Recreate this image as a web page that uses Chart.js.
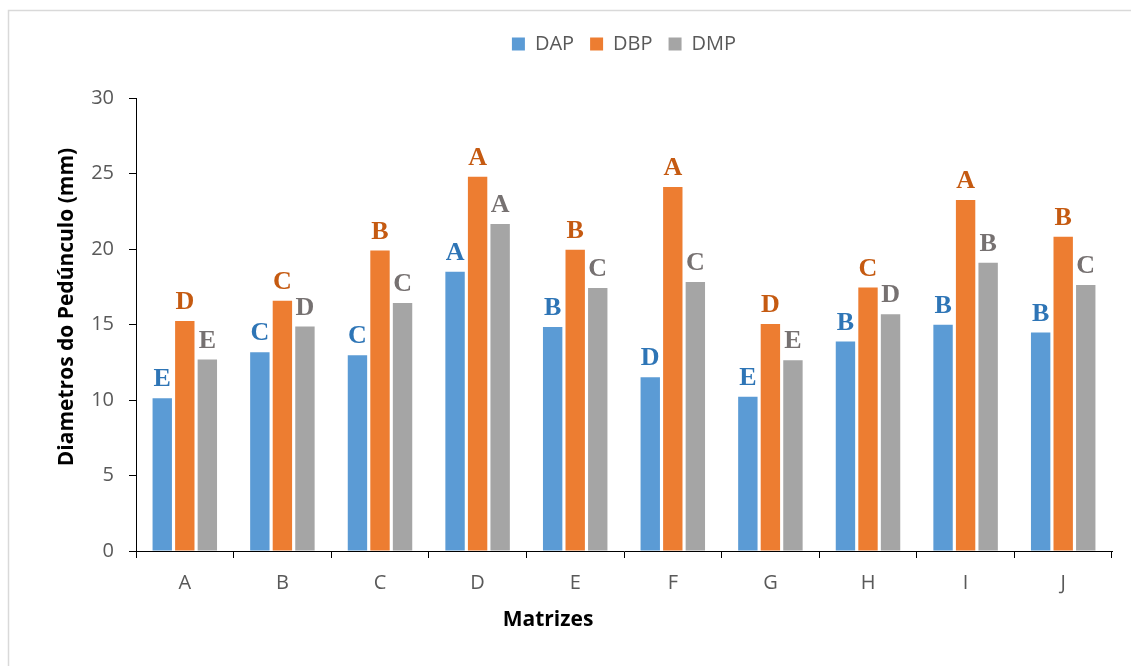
<!DOCTYPE html>
<html>
<head>
<meta charset="utf-8">
<script src="https://cdn.jsdelivr.net/npm/chart.js@4.4.1/dist/chart.umd.min.js"></script>
<style>
  html, body { margin: 0; padding: 0; background: #ffffff; overflow: hidden; }
  #wrap { position: relative; width: 1131px; height: 666px; }
</style>
</head>
<body>
<div id="wrap"><canvas id="chart" width="1131" height="666"></canvas></div>
<script>
// Matrizes (categories)
const categories = ['A', 'B', 'C', 'D', 'E', 'F', 'G', 'H', 'I', 'J'];

// Diameter series, mm
const dap = [10.12, 13.17, 12.97, 18.49, 14.84, 11.51, 10.21, 13.87, 14.98, 14.47];
const dbp = [15.24, 16.57, 19.90, 24.78, 19.95, 24.10, 15.04, 17.45, 23.24, 20.81];
const dmp = [12.68, 14.86, 16.43, 21.65, 17.41, 17.81, 12.64, 15.68, 19.09, 17.61];

// Significance letters shown above each bar
const dapLetters = ['E', 'C', 'C', 'A', 'B', 'D', 'E', 'B', 'B', 'B'];
const dbpLetters = ['D', 'C', 'B', 'A', 'B', 'A', 'D', 'C', 'A', 'B'];
const dmpLetters = ['E', 'D', 'C', 'A', 'C', 'C', 'E', 'D', 'B', 'C'];

// Axis ticks
const yTicks = [0, 5, 10, 15, 20, 25, 30];

const seriesNames = ['DAP', 'DBP', 'DMP'];
const barColors = ['#5B9BD5', '#ED7D31', '#A5A5A5'];
const letterColors = ['#2E75B6', '#C55A11', '#767171'];
const letterSets = [dapLetters, dbpLetters, dmpLetters];

const TICK_FONT = { family: '"Open Sans", "DejaVu Sans", sans-serif', size: 20 };

// Outer frame (left and top edges visible)
const framePlugin = {
  id: 'frame',
  beforeDraw(chart) {
    const ctx = chart.ctx;
    ctx.save();
    ctx.strokeStyle = '#D9D9D9';
    ctx.lineWidth = 1.5;
    ctx.beginPath();
    ctx.moveTo(8.5, 666);
    ctx.lineTo(8.5, 10.5);
    ctx.lineTo(1131, 10.5);
    ctx.stroke();
    ctx.restore();
  }
};

// Letters above bars, placed from each bar element
const letterPlugin = {
  id: 'letters',
  afterDatasetsDraw(chart) {
    const ctx = chart.ctx;
    ctx.save();
    ctx.font = 'bold 26px "Liberation Serif", "DejaVu Serif", serif';
    ctx.textAlign = 'center';
    ctx.textBaseline = 'alphabetic';
    chart.data.datasets.forEach((ds, i) => {
      const meta = chart.getDatasetMeta(i);
      ctx.fillStyle = letterColors[i];
      meta.data.forEach((bar, j) => {
        ctx.fillText(letterSets[i][j], bar.x, bar.y - 12);
      });
    });
    ctx.restore();
  }
};

// Axis titles
const axisTitlePlugin = {
  id: 'axisTitles',
  afterDraw(chart) {
    const ctx = chart.ctx;
    ctx.save();
    ctx.fillStyle = '#000000';
    ctx.font = 'bold 21px "Open Sans", "DejaVu Sans", sans-serif';
    ctx.textAlign = 'center';
    ctx.textBaseline = 'middle';
    ctx.fillText('Matrizes', 548, 620);
    ctx.translate(67, 307);
    ctx.rotate(-Math.PI / 2);
    ctx.fillText('Diametros do Pedúnculo (mm)', 0, 0);
    ctx.restore();
  }
};

new Chart(document.getElementById('chart'), {
  type: 'bar',
  data: {
    labels: categories,
    datasets: [dap, dbp, dmp].map((values, i) => ({
      label: seriesNames[i],
      data: values,
      backgroundColor: barColors[i],
      borderWidth: 0,
      categoryPercentage: 0.693,
      barPercentage: 0.86
    }))
  },
  options: {
    responsive: false,
    animation: false,
    devicePixelRatio: 1,
    layout: { padding: { left: 20, right: 19, top: 18, bottom: 0 } },
    plugins: {
      legend: {
        position: 'top',
        fullSize: false,
        labels: {
          boxWidth: 13,
          boxHeight: 13,
          padding: 16,
          color: '#595959',
          font: TICK_FONT
        }
      },
      title: {
        display: true,
        text: '',
        weight: 500,
        font: { size: 10, lineHeight: 1 },
        padding: { top: 0, bottom: 24 }
      },
      tooltip: { enabled: false }
    },
    scales: {
      x: {
        grid: {
          display: true,
          drawOnChartArea: false,
          drawTicks: true,
          tickLength: 7,
          color: '#000000',
          lineWidth: 1,
          offset: true
        },
        border: { display: true, color: '#000000', width: 1 },
        ticks: { color: '#595959', font: TICK_FONT, padding: 13, maxRotation: 0 },
        afterFit(scale) { scale.height = 115; }
      },
      y: {
        min: 0,
        max: 30,
        afterBuildTicks(scale) { scale.ticks = yTicks.map(v => ({ value: v })); },
        grid: {
          display: true,
          drawOnChartArea: false,
          drawTicks: true,
          tickLength: 7,
          color: '#000000',
          lineWidth: 1
        },
        border: { display: true, color: '#000000', width: 1 },
        ticks: { color: '#595959', font: TICK_FONT, padding: 15 },
        afterFit(scale) { scale.width = 116; }
      }
    }
  },
  plugins: [framePlugin, letterPlugin, axisTitlePlugin]
});
</script>
</body>
</html>
